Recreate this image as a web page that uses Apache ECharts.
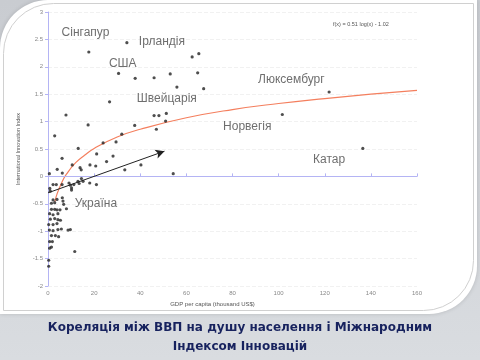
<!DOCTYPE html>
<html><head><meta charset="utf-8">
<script src="https://cdn.jsdelivr.net/npm/echarts@6/dist/echarts.min.js"></script>
<style>html,body{margin:0;padding:0;background:#d7dade}#c{width:480px;height:360px}</style>
</head><body><div id="c"></div>
<script>
// GDP per capita (thousand US$), International Innovation Index
const countryPoints = [
  [17.7,2.27],[34.2,2.44],[62.5,2.18],[65.4,2.24],[30.6,1.88],[37.8,1.79],[46.0,1.80],[53.0,1.87],[64.9,1.89],[55.9,1.63],[67.5,1.60],[26.7,1.36],
  [7.8,1.12],[46.0,1.11],[48.1,1.11],[51.3,1.15],[51.0,1.01],[47.0,0.86],[37.6,0.93],[17.4,0.94],[2.9,0.74],[32.0,0.77],[29.5,0.63],[23.9,0.61],
  [13.1,0.51],[21.1,0.41],[28.2,0.37],[6.1,0.33],[25.4,0.27],[10.5,0.21],[18.2,0.21],[20.7,0.19],[33.3,0.12],[40.3,0.21],[54.3,0.05],[13.9,0.16],
  [14.4,0.12],[4.0,0.13],[6.2,0.06],[0.6,0.05],
  [121.9,1.54],[101.6,1.13],[136.5,0.51],
  [2.2,-0.15],[3.6,-0.15],[6.1,-0.15],[0.8,-0.22],[1.0,-0.27],[9.1,-0.12],[9.7,-0.16],[10.2,-0.21],[11.2,-0.15],[10.2,-0.25],[13.0,-0.09],
  [13.5,-0.13],[15.2,-0.09],[14.5,-0.04],[18.1,-0.12],[21.0,-0.15],
  [2.2,-0.43],[3.9,-0.42],[6.2,-0.39],[6.5,-0.45],[6.8,-0.51],[8.0,-0.59],[1.5,-0.49],[2.9,-0.48],[1.5,-0.60],[2.9,-0.60],[3.9,-0.61],[5.2,-0.61],
  [0.7,-0.68],[2.2,-0.70],[4.3,-0.68],[1.0,-0.78],[2.9,-0.77],[4.3,-0.79],[5.4,-0.80],[0.3,-0.88],[2.2,-0.88],[3.9,-0.86],[0.6,-0.98],[2.2,-0.99],
  [4.3,-0.97],[5.8,-0.96],[1.5,-1.08],[3.2,-1.08],[4.6,-1.10],[8.7,-0.98],[9.7,-0.97],[0.7,-1.19],[1.9,-1.19],[0.7,-1.31],[1.5,-1.29],[11.6,-1.37],
  [0.3,-1.53],[0.3,-1.64]
];
// trend curve, points
const trendX = [3, 4, 6, 8, 12, 16, 20, 30, 40, 60, 80, 100, 120, 140, 160];
const trendY = [-0.46, -0.31, -0.11, 0.04, 0.25, 0.39, 0.51, 0.72, 0.86, 1.07, 1.22, 1.33, 1.42, 1.50, 1.57];
// arrow annotation
const arrowFrom = [0, -0.30];
const arrowTo = [50.5, 0.46];
// country labels (anchor at left edge of text)
const labelNames = ['Сінгапур','Ірландія','США','Швейцарія','Люксембург','Норвегія','Катар','Україна'];
const labelX = [5.9, 39.4, 26.4, 38.5, 91.1, 75.9, 114.9, 11.6];
const labelY = [2.63, 2.45, 2.06, 1.41, 1.77, 0.91, 0.31, -0.49];
const xTicks = {min: 0, max: 160, interval: 20};
const yTicks = {min: -2, max: 3, interval: 0.5};
const equation = 'f(x) = 0.51 log(x) - 1.02';
const xName = 'GDP per capita (thousand US$)';
const yName = 'International Innovation Index';
const caption1 = 'Кореляція між ВВП на душу населення і Міжнародним';
const caption2 = 'Індексом Інновацій';

const chart = echarts.init(document.getElementById('c'), null, {renderer: 'canvas'});
const axisColor = '#b4b4f4';
const option = {
  animation: false,
  backgroundColor: {type: 'linear', x: 0, y: 0, x2: 0, y2: 1, colorStops: [{offset: 0, color: '#c9ccd1'}, {offset: 1, color: '#d9dce0'}]},
  graphic: [
    {type: 'rect', z: -10, shape: {x: 0, y: 0, width: 477, height: 314, r: [48, 0, 48, 0]}, style: {fill: '#ffffff', shadowBlur: 4, shadowColor: 'rgba(0,0,0,0.15)'}},
    {type: 'rect', z: -9, shape: {x: 3.5, y: 3.5, width: 470, height: 307, r: [50, 0, 50, 0]}, style: {fill: 'none', stroke: '#d0d0d0', lineWidth: 1}},
    {type: 'text', left: 333, top: 21, style: {text: equation, font: '5.5px "Liberation Sans"', fill: '#555'}},
    {type: 'text', left: 'center', top: 322, style: {text: caption1, font: 'bold 12px "DejaVu Sans"', fill: '#17225e'}},
    {type: 'text', left: 'center', top: 341, style: {text: caption2, font: 'bold 12px "DejaVu Sans"', fill: '#17225e'}}
  ],
  grid: {left: 48, right: 63, top: 12, bottom: 74, containLabel: false, outerBoundsMode: 'none'},
  xAxis: {
    type: 'value', min: xTicks.min, max: xTicks.max, interval: xTicks.interval,
    name: xName, nameLocation: 'middle', nameGap: 13,
    nameTextStyle: {fontSize: 6, color: '#555', fontFamily: 'Liberation Sans', padding: [0, 40, 0, 0]},
    axisLine: {show: true, lineStyle: {color: axisColor, width: 1}},
    axisTick: {show: true, inside: true, length: 3, lineStyle: {color: axisColor}},
    axisLabel: {fontSize: 6, color: '#888', margin: 4, fontFamily: 'Liberation Sans'},
    splitLine: {show: false}
  },
  yAxis: {
    type: 'value', min: yTicks.min, max: yTicks.max, interval: yTicks.interval,
    name: yName, nameLocation: 'middle', nameGap: 19, nameRotate: 90,
    nameTextStyle: {fontSize: 5.5, color: '#555', fontFamily: 'Liberation Sans'},
    axisLine: {show: true, lineStyle: {color: axisColor, width: 1}},
    axisTick: {show: true, inside: false, length: 3, lineStyle: {color: axisColor}},
    axisLabel: {fontSize: 6, color: '#888', margin: 5, fontFamily: 'Liberation Sans'},
    splitLine: {show: true, lineStyle: {color: '#f1f1f1', type: 'dashed', width: 1}}
  },
  series: [
    {
      type: 'line', data: trendX.map((x, i) => [x, trendY[i]]), smooth: true, showSymbol: false,
      lineStyle: {color: '#f47f5e', width: 1.2}, z: 2, silent: true
    },
    {
      type: 'scatter', data: countryPoints, symbolSize: 3.2,
      itemStyle: {color: '#222'}, z: 3,
      markLine: {
        silent: true, symbol: ['none', 'none'], label: {show: false},
        lineStyle: {color: axisColor, type: 'solid', width: 1},
        data: [{yAxis: 0}]
      }
    },
    {
      type: 'line', data: [], z: 4,
      markLine: {
        silent: true, symbol: ['none', 'arrow'], symbolSize: [7, 9], label: {show: false},
        lineStyle: {color: '#222', type: 'solid', width: 1},
        data: [[{coord: arrowFrom}, {coord: arrowTo}]]
      }
    },
    {
      type: 'scatter', symbolSize: 0, z: 5, silent: true,
      data: labelNames.map((n, i) => ({name: n, value: [labelX[i], labelY[i]]})),
      label: {show: true, position: 'right', distance: 0, formatter: '{b}', fontSize: 12, color: '#4a4a4a', fontFamily: 'Liberation Sans'}
    }
  ]
};
chart.setOption(option);
</script>
</body></html>
